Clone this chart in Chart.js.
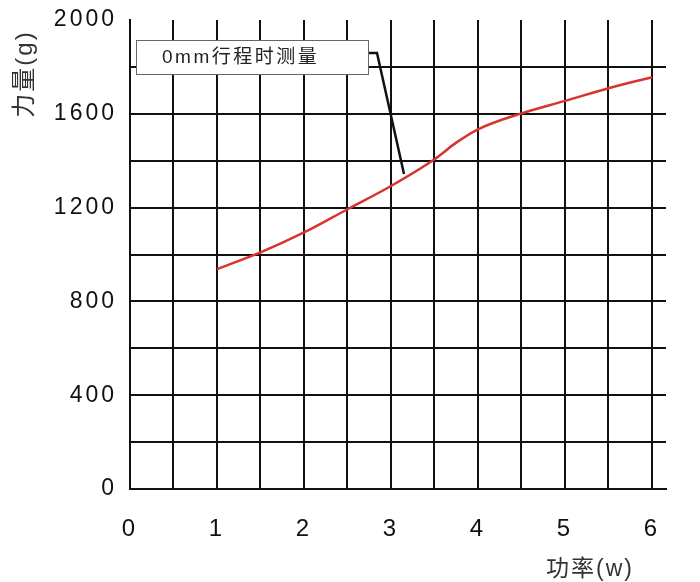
<!DOCTYPE html>
<html>
<head>
<meta charset="utf-8">
<style>
html,body{margin:0;padding:0;background:#fff;}
#wrap{width:700px;height:582px;}
</style>
<script src="https://cdn.jsdelivr.net/npm/chart.js@4"></script>
</head>
<body>
<div id="wrap"><canvas id="c" width="700" height="582"></canvas></div>
<script>
const powerW = [1, 1.5, 2, 2.5, 3, 3.5, 3.75, 4, 4.5, 5, 5.5, 6];
const forceG = [938, 1009, 1094, 1193, 1292, 1406, 1477, 1534, 1602, 1655, 1709, 1756];
const xTickValues = [0, 0.5, 1, 1.5, 2, 2.5, 3, 3.5, 4, 4.5, 5, 5.5, 6];
const seriesLabel = '0mm行程时测量';
const xTitle = '功率(w)';
const yTitle = '力量(g)';

const FONT = "'Liberation Sans', 'Noto Sans CJK SC', Arial, sans-serif";

const spacingPlugin = {
  id: 'spacing',
  beforeDraw(chart) { chart.ctx.letterSpacing = '3px'; }
};

const decorPlugin = {
  id: 'decor',
  afterDraw(chart) {
    const ctx = chart.ctx;
    ctx.save();
    // legend box
    ctx.fillStyle = '#fff';
    ctx.fillRect(136, 40, 232, 34);
    ctx.strokeStyle = '#666';
    ctx.lineWidth = 1;
    ctx.strokeRect(136.5, 40.5, 232, 34);
    // connector
    ctx.strokeStyle = '#111';
    ctx.lineWidth = 2.5;
    ctx.beginPath();
    ctx.moveTo(369, 53);
    ctx.lineTo(377, 53);
    ctx.lineTo(404, 174);
    ctx.stroke();
    // legend text
    ctx.letterSpacing = '2.5px';
    ctx.fillStyle = '#222';
    ctx.font = "19px " + FONT;
    ctx.textAlign = 'left';
    ctx.textBaseline = 'middle';
    ctx.fillText(seriesLabel, 162, 58);
    // x title
    ctx.letterSpacing = '2px';
    ctx.font = "23px " + FONT;
    ctx.textAlign = 'center';
    ctx.fillStyle = '#333';
    ctx.fillText(xTitle, 590, 570);
    // y title
    ctx.translate(25, 74);
    ctx.rotate(-Math.PI / 2);
    ctx.font = "24px " + FONT;
    ctx.fillText(yTitle, 0, 0);
    ctx.restore();
  }
};

new Chart(document.getElementById('c'), {
  type: 'line',
  data: {
    datasets: [{
      label: seriesLabel,
      data: powerW.map((x, i) => ({x: x, y: forceG[i]})),
      borderColor: '#d8342f',
      borderWidth: 2.5,
      pointRadius: 0,
      cubicInterpolationMode: 'monotone',
      fill: false
    }]
  },
  options: {
    responsive: false,
    animation: false,
    layout: {padding: {left: 0, top: 20, right: 34, bottom: 0}},
    plugins: {legend: {display: false}, tooltip: {enabled: false}},
    scales: {
      x: {
        type: 'linear',
        min: 0,
        max: 6.161,
        afterBuildTicks(scale) { scale.ticks = xTickValues.map(v => ({value: v})); },
        afterFit(scale) { scale.height = 93; scale.paddingLeft = 0; scale.paddingRight = 0; },
        grid: {color: '#111', lineWidth: 2, drawTicks: false},
        border: {display: true, color: '#111', width: 2},
        ticks: {
          autoSkip: false,
          maxRotation: 0,
          padding: 26,
          color: '#111',
          font: {family: FONT, size: 24},
          callback: v => Number.isInteger(v) ? String(v) : ''
        }
      },
      y: {
        min: 0,
        max: 2000,
        afterFit(scale) { scale.width = 130; scale.paddingTop = 0; scale.paddingBottom = 0; },
        grid: {
          color: c => (c.tick && c.tick.value === 2000) ? 'rgba(0,0,0,0)' : '#111',
          lineWidth: 2,
          drawTicks: false
        },
        border: {display: true, color: '#111', width: 2},
        ticks: {
          stepSize: 200,
          autoSkip: false,
          padding: 13,
          color: '#111',
          font: {family: FONT, size: 23},
          callback: v => (v % 400 === 0) ? String(v) : ''
        }
      }
    }
  },
  plugins: [spacingPlugin, decorPlugin]
});
</script>
</body>
</html>
